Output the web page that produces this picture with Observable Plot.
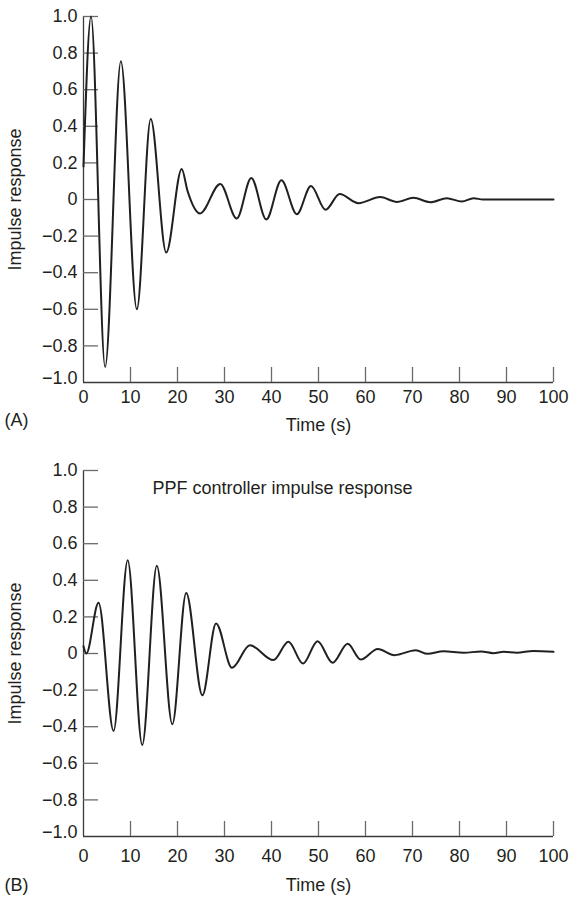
<!DOCTYPE html>
<html>
<head>
<meta charset="utf-8">
<script src="https://cdn.jsdelivr.net/npm/d3@7"></script>
<script src="https://cdn.jsdelivr.net/npm/@observablehq/plot@0.6"></script>
<style>
  html, body { margin: 0; padding: 0; background: #fff; }
  #chart svg { display: block; }
</style>
</head>
<body>
<div id="chart"></div>
<script>
// ---- data ----
const xTicks = [0, 10, 20, 30, 40, 50, 60, 70, 80, 90, 100];
const yTicks = [-1.0, -0.8, -0.6, -0.4, -0.2, 0, 0.2, 0.4, 0.6, 0.8, 1.0];

// Panel (A)
const timeA = [0, 1.6, 4.6, 7.95, 11.35, 14.3, 17.6, 20.9, 22.1, 24.8, 29.1, 32.6, 35.7, 38.9, 42.1, 45.4, 48.4, 51.5, 54.5, 58.5, 63.1, 66.7, 70.2, 73.8, 77.3, 80.5, 83.0, 85.0, 100];
const respA = [0.18, 1.0, -0.915, 0.755, -0.60, 0.44, -0.29, 0.167, 0.05, -0.076, 0.085, -0.104, 0.118, -0.109, 0.105, -0.08, 0.074, -0.056, 0.03, -0.02, 0.013, -0.013, 0.009, -0.015, 0.007, -0.011, 0.007, 0, 0];

// Panel (B)
const timeB = [0, 0.6, 3.2, 6.4, 9.4, 12.5, 15.6, 18.9, 21.85, 25.3, 28.2, 31.6, 35.4, 40.4, 43.6, 46.7, 49.8, 53.0, 56.2, 59.0, 62.6, 66.2, 70.7, 73.2, 76.6, 80.9, 84.6, 87.2, 89.4, 92.2, 95.7, 100];
const respB = [0.04, 0.0, 0.277, -0.423, 0.51, -0.50, 0.479, -0.386, 0.331, -0.228, 0.164, -0.078, 0.045, -0.036, 0.064, -0.055, 0.067, -0.051, 0.053, -0.033, 0.025, -0.009, 0.018, -0.002, 0.012, 0.004, 0.011, 0.002, 0.009, 0.004, 0.014, 0.009];

const xLabel = "Time (s)";
const yLabel = "Impulse response";
const titleB = "PPF controller impulse response";

// ---- drawing ----
const FONT = "'Liberation Sans', Arial, Helvetica, sans-serif";
const FS = 18;
const fmt = d => d === 0 ? "0" : d3.format(".1f")(d);
const INK = "#231f20";

function panel({time, resp, letter, title, height, marginTop, marginBottom, xPad, labelDy, letterDy}) {
  const rows = time.map((t, i) => ({t, v: resp[i]}));
  const marks = [
    Plot.ruleX([0], {stroke: "#3a3a3a", strokeWidth: 1.3}),
    Plot.ruleY([-1], {stroke: "#3a3a3a", strokeWidth: 1.3}),
    Plot.axisX({ticks: xTicks.filter(d => d !== 0), tickSize: -15, tickPadding: 0, label: null,
      stroke: "#6a6a6a", strokeWidth: 1.3, fill: INK, text: null}),
    Plot.axisX({ticks: xTicks, tickSize: 0, tickPadding: xPad, tickFormat: d => String(d), label: null, fill: INK}),
    Plot.axisY({ticks: yTicks.filter(d => d !== -1), tickSize: -15, tickPadding: 21, tickFormat: fmt,
      label: null, stroke: "#6a6a6a", strokeWidth: 1.3, fill: INK}),
    Plot.axisY({ticks: [-1], tickSize: 0, tickPadding: 6, tickFormat: fmt, label: null, fill: INK, dy: -4}),
    Plot.line(rows, {x: "t", y: "v", curve: "monotone-x", stroke: INK, strokeWidth: 2}),
    Plot.text([yLabel], {frameAnchor: "left", rotate: -90, dx: -68, textAnchor: "middle", lineAnchor: "middle", fill: INK, fontSize: FS}),
    Plot.text([xLabel], {frameAnchor: "bottom", dy: labelDy, textAnchor: "middle", lineAnchor: "bottom", fill: INK, fontSize: FS}),
    Plot.text([letter], {frameAnchor: "bottom-left", dx: -79, dy: letterDy, lineAnchor: "bottom", textAnchor: "start", fill: INK, fontSize: FS})
  ];
  if (title) {
    marks.push(Plot.text([title], {frameAnchor: "top-left", dx: 69, dy: 23, lineAnchor: "bottom", textAnchor: "start", fill: INK, fontSize: FS}));
  }
  return Plot.plot({
    width: 569,
    height,
    marginLeft: 83,
    marginRight: 16,
    marginTop,
    marginBottom,
    x: {domain: [0, 100], axis: null},
    y: {domain: [-1, 1], axis: null},
    style: {fontFamily: FONT, fontSize: FS + "px", color: INK, background: "#fff", overflow: "visible"},
    marks
  });
}

const chart = document.getElementById("chart");
chart.append(panel({time: timeA, resp: respA, letter: "(A)", title: null,
  height: 449, marginTop: 16, marginBottom: 67, xPad: 8, labelDy: 48, letterDy: 43}));
chart.append(panel({time: timeB, resp: respB, letter: "(B)", title: titleB,
  height: 449, marginTop: 21, marginBottom: 62, xPad: 13, labelDy: 54, letterDy: 54}));
</script>
</body>
</html>
